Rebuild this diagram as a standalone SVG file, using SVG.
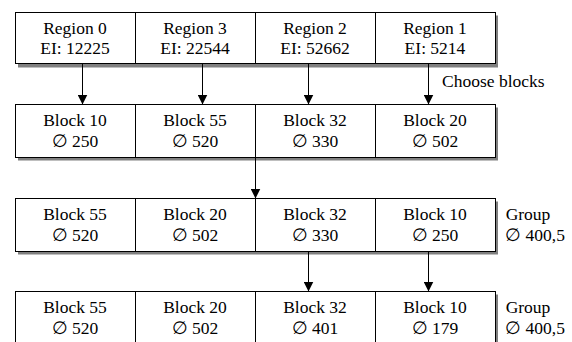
<svg xmlns="http://www.w3.org/2000/svg" width="572" height="342" viewBox="0 0 572 342">
<defs>
<style>
.cell{fill:#fff;stroke:#000;stroke-width:1}
.sh{fill:#808080}
text{font-family:Tinos,'Liberation Serif','Times New Roman',serif;font-size:17.5px;fill:#000;text-anchor:middle}
.conn{stroke:#000;stroke-width:1;fill:none}
</style>
<marker id="ah" viewBox="0 0 10 10" refX="10" refY="5" markerWidth="10" markerHeight="10" markerUnits="userSpaceOnUse" orient="auto">
<path d="M0,0 L10,5 L0,10 Z" fill="#000"/>
</marker>
</defs>
<rect width="572" height="342" fill="#fff"/>
<rect class="sh" x="18" y="15.5" width="480" height="52"/>
<rect class="sh" x="18" y="107.5" width="480" height="53"/>
<rect class="sh" x="18" y="201.5" width="480" height="53"/>
<rect class="sh" x="18" y="294.5" width="480" height="60"/>

<g id="r0"><rect class="cell" x="15.5" y="12.5" width="120" height="51"/><text x="75" y="34">Region 0</text><text x="75" y="54">EI: 12225</text></g>
<g id="r3"><rect class="cell" x="135.5" y="12.5" width="120" height="51"/><text x="195" y="34">Region 3</text><text x="195" y="54">EI: 22544</text></g>
<g id="r2"><rect class="cell" x="255.5" y="12.5" width="120" height="51"/><text x="315" y="34">Region 2</text><text x="315" y="54">EI: 52662</text></g>
<g id="r1"><rect class="cell" x="375.5" y="12.5" width="120" height="51"/><text x="435" y="34">Region 1</text><text x="435" y="54">EI: 5214</text></g>

<g id="b2_10"><rect class="cell" x="15.5" y="104.5" width="120" height="53"/><text x="75" y="126">Block 10</text><text x="75" y="147">∅ 250</text></g>
<g id="b2_55"><rect class="cell" x="135.5" y="104.5" width="120" height="53"/><text x="195" y="126">Block 55</text><text x="195" y="147">∅ 520</text></g>
<g id="b2_32"><rect class="cell" x="255.5" y="104.5" width="120" height="53"/><text x="315" y="126">Block 32</text><text x="315" y="147">∅ 330</text></g>
<g id="b2_20"><rect class="cell" x="375.5" y="104.5" width="120" height="53"/><text x="435" y="126">Block 20</text><text x="435" y="147">∅ 502</text></g>

<g id="b3_55"><rect class="cell" x="15.5" y="198.5" width="120" height="53"/><text x="75" y="220">Block 55</text><text x="75" y="241">∅ 520</text></g>
<g id="b3_20"><rect class="cell" x="135.5" y="198.5" width="120" height="53"/><text x="195" y="220">Block 20</text><text x="195" y="241">∅ 502</text></g>
<g id="b3_32"><rect class="cell" x="255.5" y="198.5" width="120" height="53"/><text x="315" y="220">Block 32</text><text x="315" y="241">∅ 330</text></g>
<g id="b3_10"><rect class="cell" x="375.5" y="198.5" width="120" height="53"/><text x="435" y="220">Block 10</text><text x="435" y="241">∅ 250</text></g>
<g id="g3"><text x="528" y="220">Group</text><text x="535" y="241">∅ 400,5</text></g>

<g id="b4_55"><rect class="cell" x="15.5" y="291.5" width="120" height="60"/><text x="75" y="313">Block 55</text><text x="75" y="334">∅ 520</text></g>
<g id="b4_20"><rect class="cell" x="135.5" y="291.5" width="120" height="60"/><text x="195" y="313">Block 20</text><text x="195" y="334">∅ 502</text></g>
<g id="b4_32"><rect class="cell" x="255.5" y="291.5" width="120" height="60"/><text x="315" y="313">Block 32</text><text x="315" y="334">∅ 401</text></g>
<g id="b4_10"><rect class="cell" x="375.5" y="291.5" width="120" height="60"/><text x="435" y="313">Block 10</text><text x="435" y="334">∅ 179</text></g>
<g id="g4"><text x="528" y="313">Group</text><text x="535" y="334">∅ 400,5</text></g>

<g id="connectors">
<line class="conn" x1="82.5" y1="63.5" x2="82.5" y2="104.5" marker-end="url(#ah)"/>
<line class="conn" x1="202.5" y1="63.5" x2="202.5" y2="104.5" marker-end="url(#ah)"/>
<line class="conn" x1="308.5" y1="63.5" x2="308.5" y2="104.5" marker-end="url(#ah)"/>
<line class="conn" x1="428.5" y1="63.5" x2="428.5" y2="104.5" marker-end="url(#ah)"/>
<line class="conn" x1="255.5" y1="157.5" x2="255.5" y2="198.5" marker-end="url(#ah)"/>
<line class="conn" x1="308.5" y1="251.5" x2="308.5" y2="291.5" marker-end="url(#ah)"/>
<line class="conn" x1="428.5" y1="251.5" x2="428.5" y2="291.5" marker-end="url(#ah)"/>
</g>
<text x="442" y="87" style="text-anchor:start">Choose blocks</text>
</svg>
